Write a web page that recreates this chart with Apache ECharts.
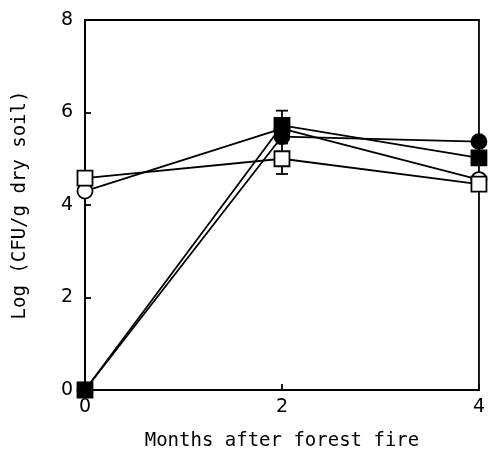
<!DOCTYPE html>
<html>
<head>
<meta charset="utf-8">
<script src="https://cdn.jsdelivr.net/npm/echarts@6/dist/echarts.min.js"></script>
<style>
  html, body { margin: 0; padding: 0; background: #fff; }
</style>
</head>
<body>
<div id="myChart" style="width: 488px; height: 456px;"></div>
<script>
// months after fire
const months = [0, 2, 4];
const openSquare = [4.58, 5.0, 4.45];
const openCircle = [4.3, 5.65, 4.55];
const filledSquare = [0, 5.72, 5.02];
const filledCircle = [0, 5.48, 5.37];
// +/- error at each month (0 = no bar)
const openSquareErr = [0, 0.33, 0];
const filledSquareErr = [0, 0.32, 0];
const yTicks = [0, 2, 4, 6, 8];

const font = 'DejaVu Sans Mono';
const tickFont = 'DejaVu Sans';

function pairs(vals) {
  return months.map((m, i) => [m, vals[i]]);
}

function errData(vals, errs) {
  const out = [];
  months.forEach((m, i) => {
    if (errs[i] > 0) out.push([m, vals[i] - errs[i], vals[i] + errs[i]]);
  });
  return out;
}

function lineSeries(name, vals, symbol, filled, z) {
  return {
    name: name,
    type: 'line',
    data: pairs(vals),
    symbol: symbol,
    symbolSize: 15,
    showAllSymbol: true,
    z: z,
    lineStyle: { color: '#000', width: 1.8 },
    itemStyle: { color: filled ? '#000' : '#fff', borderColor: '#000', borderWidth: 1.8, opacity: 1 }
  };
}

function errSeries(data) {
  return {
    type: 'custom',
    data: data,
    z: 1,
    renderItem: (params, api) => {
      const lo = api.coord([api.value(0), api.value(1)]);
      const hi = api.coord([api.value(0), api.value(2)]);
      const w = 6;
      const st = { stroke: '#000', lineWidth: 1.8 };
      return {
        type: 'group',
        children: [
          { type: 'line', shape: { x1: lo[0], y1: lo[1], x2: hi[0], y2: hi[1] }, style: st },
          { type: 'line', shape: { x1: lo[0] - w, y1: lo[1], x2: lo[0] + w, y2: lo[1] }, style: st },
          { type: 'line', shape: { x1: hi[0] - w, y1: hi[1], x2: hi[0] + w, y2: hi[1] }, style: st }
        ]
      };
    }
  };
}

const myChart = echarts.init(document.getElementById('myChart'));
myChart.setOption({
  backgroundColor: '#fff',
  animation: false,
  grid: {
    left: 85, top: 20, right: 4, bottom: 65,
    show: true, borderColor: '#000', borderWidth: 1.8, backgroundColor: 'transparent'
  },
  xAxis: {
    type: 'value',
    min: 0, max: 4, interval: 2,
    name: 'Months after forest fire',
    nameLocation: 'middle',
    nameGap: 42,
    nameTextStyle: { fontFamily: font, fontSize: 19, color: '#000' },
    axisLine: { lineStyle: { color: '#000', width: 1.8 } },
    axisTick: { show: true, inside: true, length: 6, lineStyle: { color: '#000', width: 1.8 } },
    axisLabel: { fontFamily: tickFont, fontSize: 19, color: '#000', margin: 8 },
    splitLine: { show: false }
  },
  yAxis: {
    type: 'value',
    min: yTicks[0], max: yTicks[yTicks.length - 1], interval: 2,
    name: 'Log (CFU/g dry soil)',
    nameLocation: 'middle',
    nameGap: 55,
    nameTextStyle: { fontFamily: font, fontSize: 19, color: '#000' },
    axisLine: { lineStyle: { color: '#000', width: 1.8 } },
    axisTick: { show: true, inside: true, length: 6, lineStyle: { color: '#000', width: 1.8 } },
    axisLabel: { fontFamily: tickFont, fontSize: 19, color: '#000', margin: 12 },
    splitLine: { show: false }
  },
  series: [
    errSeries(errData(openSquare, openSquareErr)),
    errSeries(errData(filledSquare, filledSquareErr)),
    lineSeries('open circle', openCircle, 'circle', false, 3),
    lineSeries('open square', openSquare, 'rect', false, 4),
    lineSeries('filled circle', filledCircle, 'circle', true, 5),
    lineSeries('filled square', filledSquare, 'rect', true, 6)
  ]
});
</script>
</body>
</html>
